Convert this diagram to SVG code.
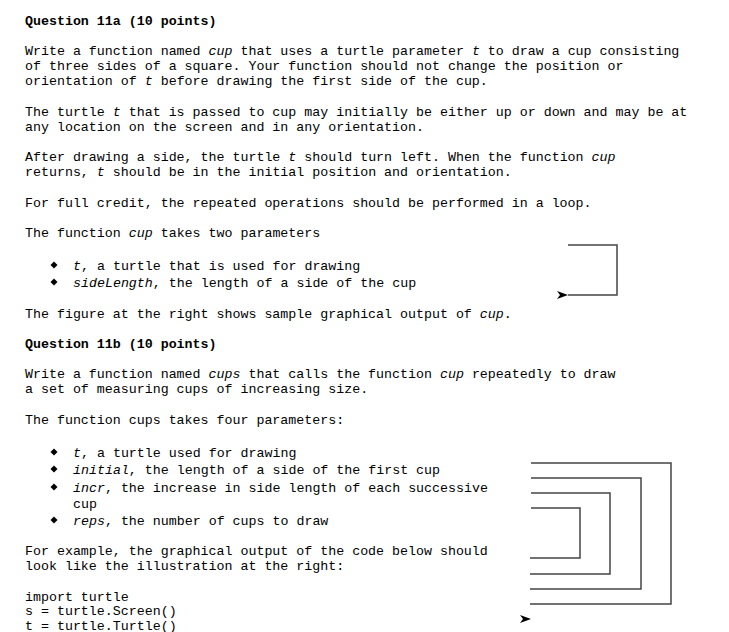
<svg xmlns="http://www.w3.org/2000/svg" width="729" height="632" viewBox="0 0 729 632">
<style>
text{font-family:"Liberation Mono",monospace;font-size:13.3px;fill:#000;white-space:pre}
.b{font-weight:bold}
.i{font-style:italic}
.ln{stroke:#444;stroke-width:1.5;fill:none}
</style>
<rect width="729" height="632" fill="#fff"/>
<g id="text">
<text x="25" y="25" class="b">Question 11a (10 points)</text>
<text x="25" y="55">Write a function named <tspan class="i">cup</tspan> that uses a turtle parameter <tspan class="i">t</tspan> to draw a cup consisting</text>
<text x="25" y="70">of three sides of a square. Your function should not change the position or</text>
<text x="25" y="85">orientation of <tspan class="i">t</tspan> before drawing the first side of the cup.</text>
<text x="25" y="116">The turtle <tspan class="i">t</tspan> that is passed to cup may initially be either up or down and may be at</text>
<text x="25" y="131">any location on the screen and in any orientation.</text>
<text x="25" y="161">After drawing a side, the turtle <tspan class="i">t</tspan> should turn left. When the function <tspan class="i">cup</tspan></text>
<text x="25" y="176">returns, <tspan class="i">t</tspan> should be in the initial position and orientation.</text>
<text x="25" y="207">For full credit, the repeated operations should be performed in a loop.</text>
<text x="25" y="237">The function <tspan class="i">cup</tspan> takes two parameters</text>
<text x="73" y="270"><tspan class="i">t</tspan>, a turtle that is used for drawing</text>
<text x="73" y="287"><tspan class="i">sideLength</tspan>, the length of a side of the cup</text>
<text x="25" y="318">The figure at the right shows sample graphical output of <tspan class="i">cup</tspan>.</text>
<text x="25" y="348" class="b">Question 11b (10 points)</text>
<text x="25" y="378">Write a function named <tspan class="i">cups</tspan> that calls the function <tspan class="i">cup</tspan> repeatedly to draw</text>
<text x="25" y="393">a set of measuring cups of increasing size.</text>
<text x="25" y="424">The function cups takes four parameters:</text>
<text x="73" y="457"><tspan class="i">t</tspan>, a turtle used for drawing</text>
<text x="73" y="474"><tspan class="i">initial</tspan>, the length of a side of the first cup</text>
<text x="73" y="492"><tspan class="i">incr</tspan>, the increase in side length of each successive</text>
<text x="73" y="508">cup</text>
<text x="73" y="525"><tspan class="i">reps</tspan>, the number of cups to draw</text>
<text x="25" y="555">For example, the graphical output of the code below should</text>
<text x="25" y="570">look like the illustration at the right:</text>
<text x="25" y="601">import turtle</text>
<text x="25" y="615">s = turtle.Screen()</text>
<text x="25" y="630">t = turtle.Turtle()</text>
</g>
<g id="bullets" fill="#000">
<path d="M54,261.5 l3.5,3.5 l-3.5,3.5 l-3.5,-3.5z"/>
<path d="M54,278.5 l3.5,3.5 l-3.5,3.5 l-3.5,-3.5z"/>
<path d="M54,448.5 l3.5,3.5 l-3.5,3.5 l-3.5,-3.5z"/>
<path d="M54,465.5 l3.5,3.5 l-3.5,3.5 l-3.5,-3.5z"/>
<path d="M54,483.5 l3.5,3.5 l-3.5,3.5 l-3.5,-3.5z"/>
<path d="M54,516.5 l3.5,3.5 l-3.5,3.5 l-3.5,-3.5z"/>
</g>
<g id="figure1">
<path class="ln" d="M568,245 H617 V295 H568"/>
<path d="M557,291 L568,295 L557,299 L560,295z" fill="#000"/>
</g>
<g id="figure2">
<path class="ln" d="M531,463 H671 V604 H530"/>
<path class="ln" d="M531,478 H641 V589 H530"/>
<path class="ln" d="M531,493 H610 V574 H530"/>
<path class="ln" d="M531,508 H580 V558 H530"/>
<path d="M520,615 L531,619 L520,623 L523,619z" fill="#000"/>
</g>
</svg>
